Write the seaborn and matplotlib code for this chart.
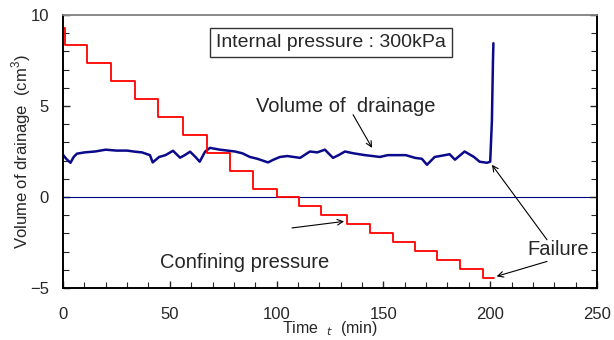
import numpy as np
import pandas as pd
import matplotlib
matplotlib.use('Agg')
import matplotlib.pyplot as plt
from matplotlib.ticker import MultipleLocator
import seaborn as sns

# drainage volume (cm3) vs time (min)
time_drain = [0, 1.5, 3.5, 5, 6.5, 10, 15, 20, 25, 30, 33.7, 37, 40.7, 42, 45, 48,
              51.5, 54.8, 57, 59.5, 62, 64, 66.5, 68.8, 73.5, 77, 80.5, 84, 87.5, 91, 96, 98.5,
              101.6, 105, 108, 111, 115.6, 119, 122.6, 126.4, 129, 132, 136, 141.4, 145, 148.4, 152, 156.4,
              160.5, 164.8, 168, 170.4, 174, 178.8, 181, 183.5, 188, 192.4, 195, 198.5, 200, 200.8, 201.3, 201.5]
vol_drain = [2.32, 2.1, 1.88, 2.2, 2.38, 2.45, 2.5, 2.6, 2.55, 2.55, 2.49, 2.45, 2.3, 1.9, 2.2, 2.3,
             2.54, 2.16, 2.3, 2.49, 2.2, 1.94, 2.49, 2.7, 2.6, 2.55, 2.5, 2.4, 2.2, 2.1, 1.9, 2.05,
             2.2, 2.25, 2.2, 2.15, 2.5, 2.45, 2.6, 2.15, 2.3, 2.5, 2.4, 2.3, 2.25, 2.2, 2.3, 2.3,
             2.3, 2.15, 2.1, 1.77, 2.2, 2.3, 2.35, 2.05, 2.5, 2.2, 1.94, 1.88, 1.94, 4.2, 7.5, 8.45]

# confining pressure (kPa, right axis) steps
time_conf = [0, 1, 11.4, 22.5, 33.7, 44.6, 56, 67.3, 78.2, 89, 100.3, 110.6, 121, 132.8,
             143.7, 154.6, 165, 175.2, 185.9, 196.6, 201.8]
conf_press = [385.6, 366.6, 347, 327, 308, 288, 268, 248, 229, 209, 200, 190, 180, 170,
              160, 151, 141, 131, 121, 111, 111]

right_ticks = [100, 200, 300, 400]

sns.set_style('ticks')
plt.rcParams['font.family'] = ['Liberation Sans', 'DejaVu Sans']
plt.rcParams['mathtext.fontset'] = 'custom'
plt.rcParams['mathtext.rm'] = 'Liberation Sans'

drain = pd.DataFrame({'t': time_drain, 'v': vol_drain})
conf = pd.DataFrame({'t': time_conf, 'p': conf_press})

fig, ax = plt.subplots(figsize=(6.14, 3.4), dpi=100)
fig.subplots_adjust(left=63/614, right=597/614, top=1-15/340, bottom=1-288/340)

ax.axhline(0, color='#000080', lw=0.8)
sns.lineplot(data=drain, x='t', y='v', ax=ax, color='#0a0a8a', lw=1.8,
             sort=False, estimator=None)
ax.set_xlim(0, 250)
ax.set_ylim(-5, 10)
ax.xaxis.set_major_locator(MultipleLocator(50))
ax.xaxis.set_minor_locator(MultipleLocator(10))
ax.yaxis.set_major_locator(MultipleLocator(5))
ax.yaxis.set_minor_locator(MultipleLocator(1))
ax.tick_params(axis='x', which='both', direction='in', labelsize=12, pad=14)
ax.tick_params(axis='y', which='both', direction='in', labelsize=12, pad=10)
ax.tick_params(which='major', length=5, width=1)
ax.tick_params(which='minor', length=4, width=0.8)
ax.tick_params(axis='x', which='both', top=False)

ax2 = ax.twinx()
sns.lineplot(data=conf, x='t', y='p', ax=ax2, color='red', lw=1.3,
             drawstyle='steps-post', sort=False, estimator=None)
ax2.set_ylim(100, 400)
ax2.set_yticks(right_ticks)
ax2.yaxis.set_minor_locator(MultipleLocator(20))
ax2.tick_params(axis='y', which='both', direction='in', labelsize=12, pad=12)
ax2.tick_params(which='major', length=5, width=1)
ax2.tick_params(which='minor', length=4, width=0.8)
ax2.set_ylabel('')
ax2.set_xlabel('')

for a in (ax, ax2):
    for s in ('left', 'right', 'bottom'):
        a.spines[s].set_color('black')
        a.spines[s].set_linewidth(1.2)
    a.spines['top'].set_color('#888888')
    a.spines['top'].set_linewidth(1.2)

ax.set_xlabel('Time  $_t$  (min)', fontsize=11.5)
ax.xaxis.set_label_coords(0.5, -0.115)
ax.set_ylabel('Volume of drainage  (cm$^3$)', fontsize=12, va='center')
ax.yaxis.set_label_coords(-0.079, 0.5)

ax.text(125.5, 8.48, 'Internal pressure : 300kPa', fontsize=14, ha='center', va='center',
        bbox=dict(boxstyle='square,pad=0.3', fc='white', ec='#333333', lw=1))

arrow = dict(arrowstyle='->', lw=0.8, color='black', shrinkA=0, shrinkB=0)
ax.text(132.5, 5.0, 'Volume of  drainage', fontsize=14.5, ha='center', va='center')
ax.annotate('', xy=(144.7, 2.7), xytext=(135.8, 4.52), arrowprops=arrow)
ax.text(85.2, -3.6, 'Confining pressure', fontsize=14.5, ha='center', va='center')
ax.annotate('', xy=(131.6, -1.34), xytext=(107.2, -1.7), arrowprops=arrow)
ax.text(232, -2.9, 'Failure', fontsize=14.5, ha='center', va='center')
ax.annotate('', xy=(200.8, 1.77), xytext=(226.6, -2.35), arrowprops=arrow)
ax.annotate('', xy=(203, -4.36), xytext=(226.6, -3.54), arrowprops=arrow)

fig.savefig('out.png', dpi=100)
